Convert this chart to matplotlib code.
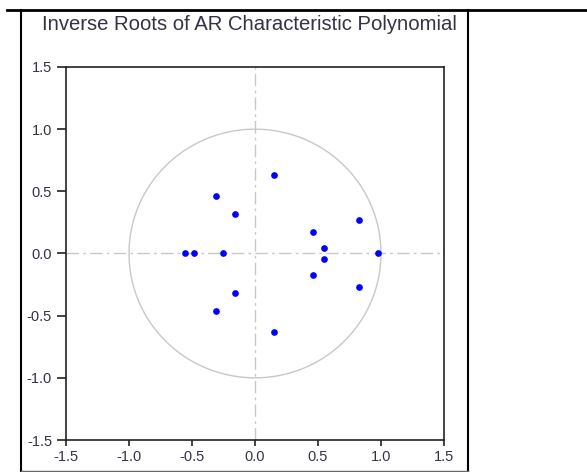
import numpy as np
import matplotlib
matplotlib.use("Agg")
import matplotlib.pyplot as plt
from matplotlib.lines import Line2D

root_re = [0.151, 0.151, -0.310, -0.310, -0.159, -0.159, -0.559, -0.484,
           -0.257, 0.828, 0.828, 0.463, 0.463, 0.544, 0.544, 0.973]
root_im = [0.635, -0.635, 0.460, -0.462, 0.314, -0.314, 0.0, 0.0,
           0.0, 0.268, -0.272, 0.175, -0.176, 0.044, -0.046, 0.0]
ticks = [-1.5, -1.0, -0.5, 0.0, 0.5, 1.0, 1.5]
tick_labels = ["-1.5", "-1.0", "-0.5", "0.0", "0.5", "1.0", "1.5"]

plt.rcParams["font.family"] = ["Liberation Sans", "DejaVu Sans"]

fig = plt.figure(figsize=(5.87, 4.72), dpi=100)
ax = fig.add_axes([66 / 587, 1 - 440 / 472, 378 / 587, 373 / 472])

# unit circle and crosshair
t = np.linspace(0, 2 * np.pi, 400)
ax.plot(np.cos(t), np.sin(t), color="#c8c8c8", lw=1, zorder=1)
ax.axhline(0, color="#c8c8c8", lw=1, dashes=(9, 3, 2, 3), zorder=1)
ax.axvline(0, color="#c8c8c8", lw=1, dashes=(9, 3, 2, 3), zorder=1)

ax.plot(root_re, root_im, "o", color="#0000ff", ms=3.8, mec="#0000ff", zorder=3)

ax.set_xlim(-1.5, 1.5)
ax.set_ylim(-1.5, 1.5)
ax.set_xticks(ticks)
ax.set_xticklabels(tick_labels)
ax.set_yticks(ticks)
ax.set_yticklabels(tick_labels)
ax.tick_params(direction="out", width=1.2, colors="#222222",
               labelcolor="#333344", labelsize=10.5)
ax.tick_params(axis="x", length=4.5, pad=3)
ax.tick_params(axis="y", length=6.5, pad=3.5)
for s in ax.spines.values():
    s.set_linewidth(1.2)
    s.set_color("#222222")

fig.text(42 / 587, 1 - 25 / 472, "Inverse Roots of AR Characteristic Polynomial",
         fontsize=14.6, color="#333344", va="center", ha="left")

# table cell borders around the picture
fig.add_artist(Line2D([7 / 587, 1], [1 - 10 / 472, 1 - 10 / 472], color="black", lw=2))
fig.add_artist(Line2D([21 / 587, 21 / 587], [0, 1 - 10 / 472], color="black", lw=1.5))
fig.add_artist(Line2D([468 / 587, 468 / 587], [0, 1 - 10 / 472], color="black", lw=1.5))
fig.add_artist(Line2D([21 / 587, 468 / 587], [1 - 471 / 472, 1 - 471 / 472], color="#666666", lw=1))

fig.savefig("out.png", dpi=100)
